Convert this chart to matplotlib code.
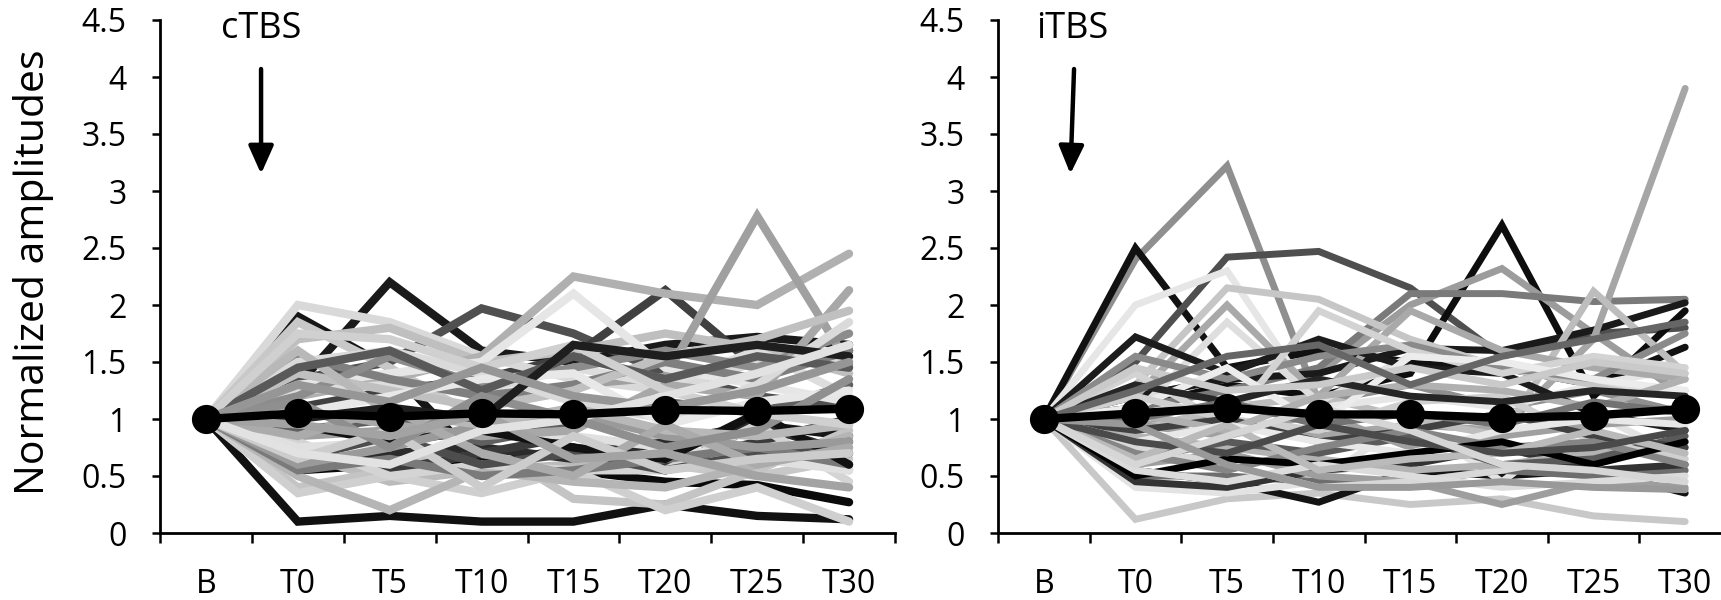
import numpy as np
import matplotlib
matplotlib.use('Agg')
import matplotlib.pyplot as plt

plt.rcParams['font.family'] = ['Open Sans', 'DejaVu Sans']

# Time points
time_labels = ['B', 'T0', 'T5', 'T10', 'T15', 'T20', 'T25', 'T30']
baseline = 1.0

# cTBS single subjects (T0 ... T30), all start at B = 1
ctbs_subjects = [
    [0.10, 0.15, 0.10, 0.10, 0.25, 0.15, 0.12],
    [0.55, 0.60, 0.62, 0.55, 0.45, 0.42, 0.27],
    [1.30, 2.20, 1.60, 1.50, 1.65, 1.72, 1.65],
    [1.90, 1.45, 0.60, 0.75, 0.55, 0.95, 0.85],
    [1.35, 1.50, 1.97, 1.75, 1.40, 1.20, 1.10],
    [1.10, 1.25, 1.35, 1.55, 2.13, 1.45, 1.60],
    [2.00, 1.85, 1.55, 1.35, 1.25, 1.50, 1.55],
    [1.85, 1.45, 1.00, 0.70, 0.60, 0.50, 0.65],
    [1.70, 1.80, 1.50, 1.60, 1.75, 1.62, 1.40],
    [1.20, 1.35, 1.55, 2.25, 2.10, 2.00, 2.45],
    [0.85, 0.90, 1.10, 1.30, 1.37, 2.78, 1.48],
    [1.30, 1.40, 1.50, 2.10, 1.45, 1.30, 1.15],
    [1.25, 1.30, 1.25, 1.45, 1.30, 1.60, 1.20],
    [0.70, 0.45, 0.55, 0.60, 0.85, 0.70, 0.55],
    [0.40, 0.55, 0.80, 0.30, 0.25, 0.55, 0.90],
    [0.35, 0.50, 0.35, 0.55, 0.20, 0.40, 0.10],
    [0.50, 0.20, 0.55, 0.45, 0.40, 0.60, 0.85],
    [0.60, 0.70, 0.75, 0.65, 0.80, 0.95, 0.70],
    [0.75, 0.55, 0.70, 0.85, 0.60, 0.80, 1.00],
    [1.55, 1.35, 1.20, 1.30, 1.50, 1.35, 1.60],
    [1.20, 1.55, 1.30, 1.45, 1.60, 1.45, 1.75],
    [0.90, 1.00, 0.80, 0.95, 1.15, 1.05, 1.30],
    [0.80, 0.50, 0.60, 0.55, 0.55, 0.95, 0.45],
    [0.75, 0.80, 0.90, 0.85, 0.75, 0.65, 0.55],
    [1.10, 0.95, 0.85, 0.90, 1.30, 1.20, 2.13],
    [1.40, 1.25, 1.10, 1.25, 1.55, 1.70, 1.95],
    [1.50, 1.60, 1.40, 1.15, 1.00, 1.30, 1.85],
    [0.65, 0.85, 0.60, 0.70, 0.55, 0.70, 0.80],
    [0.55, 0.65, 0.50, 0.55, 0.65, 0.75, 0.60],
    [0.95, 0.80, 0.90, 0.75, 0.65, 1.05, 0.60],
    [0.60, 0.75, 0.95, 1.05, 0.85, 0.75, 0.80],
    [1.05, 1.20, 1.35, 1.40, 0.95, 1.15, 1.25],
    [1.60, 1.05, 0.95, 1.10, 0.90, 0.85, 0.95],
    [1.45, 1.60, 1.25, 1.55, 1.35, 1.55, 1.45],
    [0.85, 1.10, 0.70, 0.50, 0.95, 0.60, 0.75],
    [0.65, 0.90, 0.40, 0.85, 0.55, 0.65, 0.70],
    [1.15, 0.75, 1.20, 1.00, 0.75, 0.90, 1.35],
    [1.75, 1.70, 1.45, 1.65, 1.25, 1.05, 0.95],
    [1.00, 1.10, 1.00, 1.65, 1.55, 1.65, 1.55],
    [0.95, 0.85, 1.05, 0.65, 0.70, 0.50, 0.40],
    [1.30, 1.15, 1.45, 1.20, 1.10, 1.25, 1.50],
    [0.70, 0.60, 0.90, 1.00, 1.20, 1.40, 1.65],
]
ctbs_colors = ['#111111', '#0a0a0a', '#1a1a1a', '#161616', '#505050', '#404040',
               '#d9d9d9', '#c8c8c8', '#bfbfbf', '#b0b0b0', '#a0a0a0', '#e6e6e6',
               '#dddddd', '#bbbbbb', '#c4c4c4', '#cfcfcf', '#b5b5b5', '#2b2b2b',
               '#3a3a3a', '#7f7f7f', '#8c8c8c', '#606060', '#d4d4d4', '#e0e0e0',
               '#a8a8a8', '#c0c0c0', '#dadada', '#4d4d4d', '#7a7a7a', '#111111',
               '#9a9a9a', '#e8e8e8', '#b8b8b8', '#595959', '#ababab', '#cccccc',
               '#8f8f8f', '#d0d0d0', '#1e1e1e', '#a3a3a3', '#969696', '#e2e2e2']
ctbs_mean = [1.00, 1.05, 1.02, 1.05, 1.04, 1.08, 1.07, 1.09]

# iTBS single subjects (T0 ... T30)
itbs_subjects = [
    [2.40, 3.22, 1.15, 1.30, 1.10, 1.25, 1.05],
    [2.50, 1.45, 1.60, 1.50, 1.45, 1.30, 1.63],
    [1.50, 2.42, 2.47, 2.15, 1.55, 1.75, 1.80],
    [1.10, 1.30, 1.20, 1.40, 2.70, 1.20, 1.95],
    [1.20, 1.35, 1.40, 2.00, 2.32, 1.75, 1.20],
    [1.10, 1.25, 1.45, 2.10, 2.10, 2.03, 2.05],
    [1.20, 1.35, 1.40, 1.62, 1.60, 1.78, 2.02],
    [0.95, 1.00, 0.85, 0.95, 0.90, 1.70, 3.90],
    [0.90, 1.10, 1.20, 1.00, 0.85, 2.12, 1.40],
    [0.12, 0.30, 0.35, 0.25, 0.30, 0.15, 0.10],
    [0.55, 0.45, 0.27, 0.55, 0.50, 0.55, 0.35],
    [2.00, 2.30, 1.10, 1.20, 1.10, 1.30, 1.45],
    [1.30, 2.15, 2.05, 1.70, 1.45, 1.30, 1.25],
    [1.20, 2.00, 1.20, 1.95, 1.60, 1.45, 1.35],
    [1.05, 1.85, 1.15, 1.55, 1.50, 1.35, 1.20],
    [1.72, 1.40, 1.70, 1.45, 1.40, 1.05, 0.90],
    [1.55, 1.35, 1.55, 1.65, 1.45, 1.35, 1.75],
    [1.40, 0.95, 1.95, 1.60, 1.40, 1.55, 1.45],
    [1.10, 1.45, 0.95, 1.55, 1.50, 1.35, 1.25],
    [0.40, 0.35, 0.45, 1.00, 0.45, 1.05, 0.65],
    [0.50, 0.50, 0.45, 0.45, 0.55, 0.50, 0.55],
    [0.45, 0.40, 0.55, 0.60, 0.75, 0.55, 0.60],
    [0.60, 0.70, 0.50, 0.45, 0.25, 0.45, 0.40],
    [0.75, 0.60, 0.40, 0.45, 0.55, 0.70, 0.80],
    [0.85, 0.75, 0.65, 0.55, 0.60, 0.70, 0.75],
    [0.65, 0.80, 0.70, 0.85, 0.60, 0.65, 0.85],
    [0.95, 0.85, 1.05, 0.75, 0.85, 0.95, 1.00],
    [1.20, 1.00, 0.90, 1.15, 1.20, 0.80, 0.65],
    [0.90, 1.00, 0.80, 0.90, 1.05, 0.85, 0.75],
    [1.05, 0.90, 1.20, 1.30, 1.25, 1.10, 1.35],
    [0.80, 0.95, 0.80, 0.70, 0.90, 1.00, 0.95],
    [0.70, 0.55, 0.75, 0.90, 0.75, 0.80, 0.60],
    [0.50, 0.65, 0.60, 0.70, 0.80, 0.60, 0.80],
    [1.30, 1.15, 1.35, 1.20, 1.15, 1.25, 1.20],
    [0.55, 0.45, 0.60, 0.50, 0.40, 0.45, 0.50],
    [0.65, 0.95, 0.55, 0.65, 0.70, 0.90, 0.70],
    [1.00, 1.15, 0.95, 1.05, 0.95, 1.15, 1.05],
    [1.45, 1.25, 1.30, 1.45, 1.30, 1.50, 1.40],
    [0.80, 0.70, 0.95, 0.80, 0.70, 0.75, 0.90],
    [1.25, 1.55, 1.65, 1.30, 1.55, 1.70, 1.85],
    [0.60, 0.85, 1.10, 0.90, 0.60, 0.55, 0.45],
    [0.95, 0.60, 0.40, 0.40, 0.45, 0.40, 0.38],
]
itbs_colors = ['#8f8f8f', '#111111', '#4f4f4f', '#0d0d0d', '#9c9c9c', '#7a7a7a',
               '#1a1a1a', '#a6a6a6', '#bdbdbd', '#c8c8c8', '#141414', '#e6e6e6',
               '#c6c6c6', '#a9a9a9', '#dedede', '#1c1c1c', '#8a8a8a', '#d3d3d3',
               '#ececec', '#e3e3e3', '#6e6e6e', '#333333', '#9e9e9e', '#d8d8d8',
               '#b3b3b3', '#5a5a5a', '#a0a0a0', '#cfcfcf', '#404040', '#b0b0b0',
               '#e8e8e8', '#858585', '#000000', '#262626', '#dcdcdc', '#bababa',
               '#727272', '#cacaca', '#4a4a4a', '#666666', '#d6d6d6', '#999999']
itbs_mean = [1.00, 1.05, 1.10, 1.04, 1.04, 1.01, 1.03, 1.09]


def draw_panel(ax, subjects, colors, mean, title, lw, arrow_x):
    x = np.arange(len(time_labels))
    for vals, c in zip(subjects, colors):
        ax.plot(x, [baseline] + vals, color=c, lw=lw,
                solid_capstyle='round', solid_joinstyle='miter', zorder=2)
    ax.plot(x, mean, color='black', lw=6, marker='o', markersize=20,
            zorder=5, solid_capstyle='round')

    ax.set_xlim(-0.5, len(time_labels) - 0.5)
    ax.set_ylim(0, 4.5)
    ax.set_yticks(np.arange(0, 4.51, 0.5))
    ax.set_yticklabels(['%g' % v for v in np.arange(0, 4.51, 0.5)])

    # ticks between categories, labels at the centres
    ax.set_xticks(np.arange(-0.5, len(time_labels), 1.0))
    ax.set_xticklabels([])
    ax.set_xticks(x, minor=True)
    ax.set_xticklabels(time_labels, minor=True)
    ax.tick_params(axis='x', which='major', direction='out', length=7, width=1.8)
    ax.tick_params(axis='x', which='minor', length=0, pad=25, labelsize=23)
    ax.tick_params(axis='y', direction='out', length=6, width=1.8, pad=18, labelsize=23)

    for s in ['top', 'right']:
        ax.spines[s].set_visible(False)
    for s in ['left', 'bottom']:
        ax.spines[s].set_linewidth(2)

    ax.text(arrow_x[0], 4.34, title, fontsize=26, ha='center', va='baseline')
    ax.annotate('', xy=(arrow_x[1], 3.15), xytext=(arrow_x[2], 4.07),
                arrowprops=dict(arrowstyle='-|>,head_width=0.38,head_length=0.85',
                                lw=3.2, color='black', mutation_scale=20,
                                shrinkA=0, shrinkB=0))


fig = plt.figure(figsize=(17.21, 6.0), dpi=100)
ax1 = fig.add_axes([160 / 1721, 1 - 533 / 600, 735 / 1721, 513 / 600])
ax2 = fig.add_axes([998 / 1721, 1 - 533 / 600, 733 / 1721, 513 / 600])

draw_panel(ax1, ctbs_subjects, ctbs_colors, ctbs_mean, 'cTBS', 6, (0.6, 0.6, 0.6))
draw_panel(ax2, itbs_subjects, itbs_colors, itbs_mean, 'iTBS', 5, (0.31, 0.29, 0.33))

fig.text(34 / 1721, 1 - 272 / 600, 'Normalized amplitudes', rotation=90,
         ha='center', va='center', fontsize=29.5)

plt.savefig('out.png', dpi=100)
